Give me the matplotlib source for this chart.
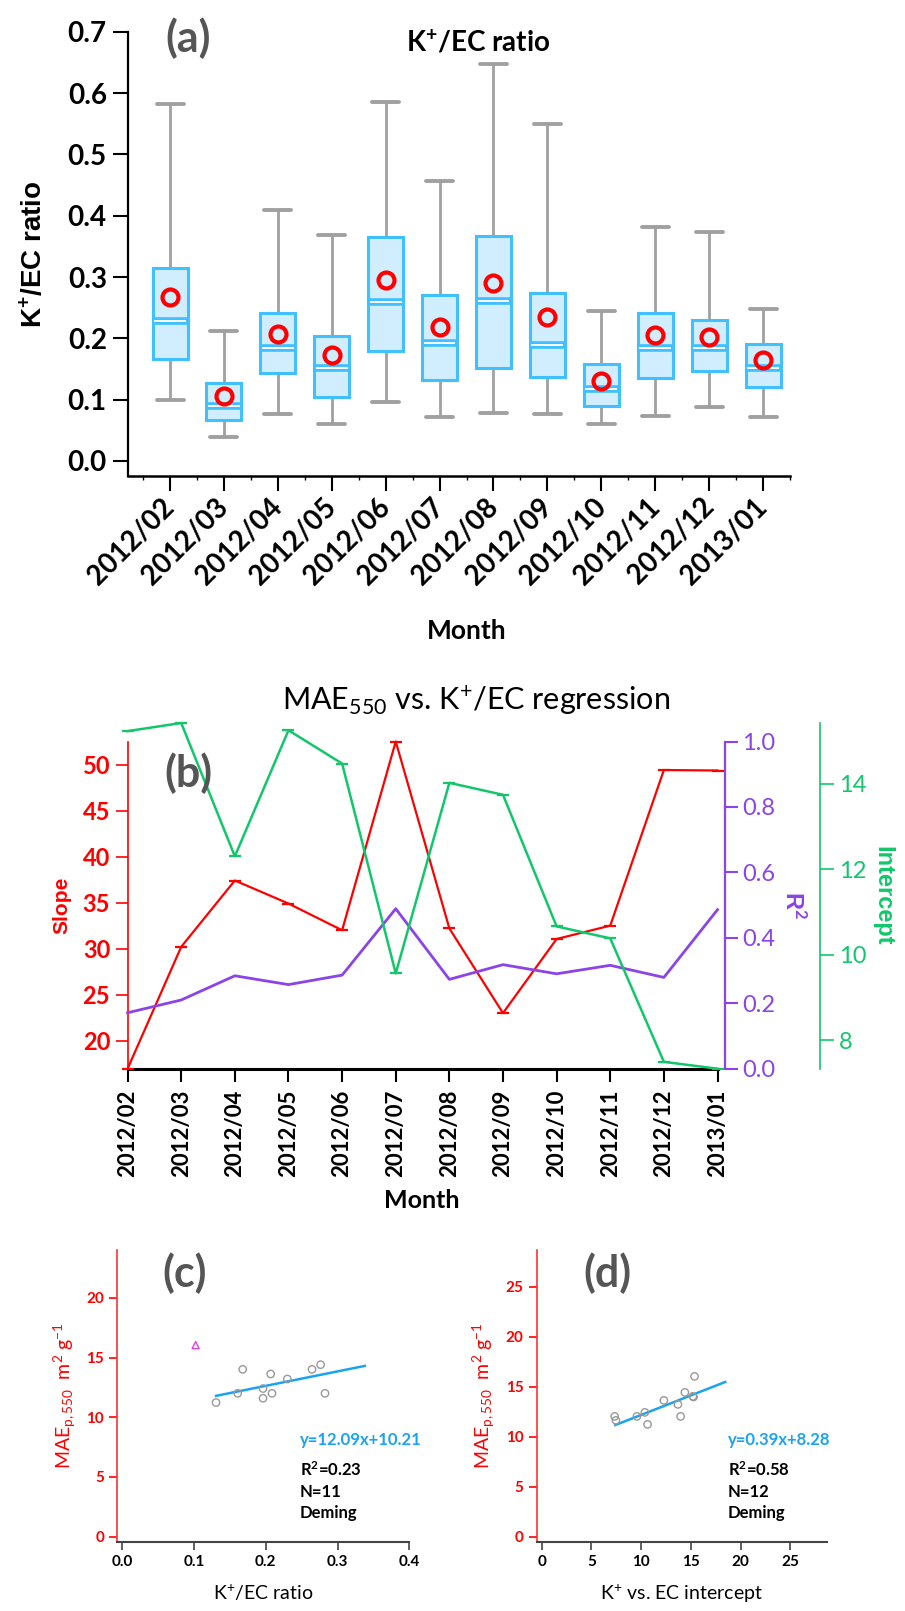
import numpy as np
import matplotlib
matplotlib.use("Agg")
import matplotlib.pyplot as plt

plt.rcParams['font.family'] = ['Lato', 'DejaVu Sans']
plt.rcParams['mathtext.fontset'] = 'custom'
plt.rcParams['mathtext.rm'] = 'Lato'
plt.rcParams['mathtext.bf'] = 'Lato:bold'
plt.rcParams['mathtext.it'] = 'Lato:italic'
ARIAL = ['Liberation Sans', 'DejaVu Sans']

months = ['2012/02', '2012/03', '2012/04', '2012/05', '2012/06', '2012/07',
          '2012/08', '2012/09', '2012/10', '2012/11', '2012/12', '2013/01']

# (a) K+/EC ratio box statistics per month
whis_lo = [0.100, 0.039, 0.077, 0.061, 0.096, 0.072, 0.079, 0.076, 0.061, 0.073, 0.088, 0.072]
q1 = [0.167, 0.067, 0.143, 0.105, 0.179, 0.132, 0.151, 0.137, 0.089, 0.136, 0.147, 0.121]
med = [0.228, 0.090, 0.185, 0.151, 0.259, 0.192, 0.261, 0.189, 0.118, 0.185, 0.184, 0.151]
q3 = [0.315, 0.127, 0.242, 0.204, 0.366, 0.270, 0.367, 0.274, 0.158, 0.241, 0.230, 0.190]
whis_hi = [0.582, 0.212, 0.410, 0.368, 0.585, 0.457, 0.648, 0.549, 0.244, 0.381, 0.373, 0.248]
mean_ratio = [0.268, 0.106, 0.207, 0.173, 0.295, 0.219, 0.290, 0.235, 0.131, 0.205, 0.202, 0.164]

# (b) monthly regression of MAE550 vs K+/EC
slope = [16.96, 30.2, 37.4, 34.9, 32.0, 52.5, 32.2, 23.0, 31.05, 32.5, 49.4, 49.35]
r2 = [0.171, 0.210, 0.284, 0.257, 0.286, 0.489, 0.273, 0.318, 0.290, 0.316, 0.279, 0.486]
intercept = [15.23, 15.42, 12.30, 15.25, 14.47, 9.56, 14.02, 13.74, 10.66, 10.38, 7.49, 7.33]

# (c) MAE vs K+/EC ratio
c_x = [0.1306, 0.1608, 0.1678, 0.1961, 0.1961, 0.2068, 0.2086, 0.230, 0.2644, 0.2764, 0.2825]
c_y = [11.23, 12.0, 14.01, 12.40, 11.59, 13.62, 12.0, 13.20, 14.01, 14.40, 12.0]
c_out_x = [0.1022]
c_out_y = [16.04]
c_slope, c_icpt = 12.09, 10.21
c_fit_x = [0.1306, 0.338]

# (d) MAE vs K+ vs EC intercept
d_x = [7.33, 7.46, 9.57, 10.37, 10.64, 12.28, 13.69, 13.96, 14.39, 15.19, 15.26, 15.36]
d_y = [12.03, 11.63, 12.03, 12.43, 11.23, 13.63, 13.23, 12.03, 14.43, 14.03, 13.97, 16.03]
d_slope, d_icpt = 0.39, 8.28
d_fit_x = [7.40, 18.44]

W, H = 905, 1611
fig = plt.figure(figsize=(W / 100, H / 100), dpi=100)


def px_axes(l, r, t, b):
    return fig.add_axes([l / W, 1 - b / H, (r - l) / W, (b - t) / H])


def ftext(x, y, s, **kw):
    return fig.text(x / W, 1 - y / H, s, **kw)


# ---------------- (a)
ax = px_axes(127.6, 790, 31.7, 476)
pos = np.arange(1, 13)
gray = '#A0A0A0'
box_edge = '#40C0FF'
box_face = '#D0EEFF'
bw = 0.65
ax.vlines(pos, whis_lo, q1, color=gray, lw=2, zorder=1)
ax.vlines(pos, q3, whis_hi, color=gray, lw=2, zorder=1)
ax.hlines(whis_lo, pos - 0.25, pos + 0.25, color=gray, lw=2.8, capstyle='round', zorder=1)
ax.hlines(whis_hi, pos - 0.25, pos + 0.25, color=gray, lw=2.8, capstyle='round', zorder=1)
ax.bar(pos, np.subtract(med, q1), bottom=q1, width=bw, facecolor=box_face,
       edgecolor=box_edge, lw=2.2, zorder=2)
ax.bar(pos, np.subtract(q3, med), bottom=med, width=bw, facecolor=box_face,
       edgecolor=box_edge, lw=2.2, zorder=2)
ax.hlines(med, pos - bw / 2, pos + bw / 2, color=box_edge, lw=5.5, zorder=3)
ax.hlines(med, pos - bw / 2 + 0.03, pos + bw / 2 - 0.03, color='white', lw=1.4, zorder=3)
ax.plot(pos, mean_ratio, 'o', mfc='none', mec='#FF0000', ms=11.5, mew=3, zorder=4)

ax.set_xlim(0.213, 12.5)
ax.set_ylim(-0.0245, 0.7)
ax.set_yticks(np.arange(0, 0.71, 0.1))
ax.set_yticklabels(['%.1f' % v for v in np.arange(0, 0.71, 0.1)], fontsize=20, fontweight='bold')
ax.set_xticks(pos)
ax.set_xticklabels(months, rotation=45, ha='right', va='center', rotation_mode='anchor',
                   fontsize=20, fontweight='bold')
ax.set_xticks(np.arange(0.5, 12.6, 1), minor=True)
ax.tick_params(axis='x', which='major', length=11, width=1.5, pad=8)
ax.tick_params(axis='x', which='minor', length=3, width=1)
ax.tick_params(axis='y', length=11, width=1.5, pad=4)
for s in ['top', 'right']:
    ax.spines[s].set_visible(False)
ax.spines['left'].set_linewidth(1.6)
ax.spines['bottom'].set_linewidth(1.8)
ax.set_ylabel(r'K$^{\mathbf{+}}$/EC ratio', fontsize=20, fontweight='bold', family=ARIAL, labelpad=14)
ftext(478, 43, r'K$^{\mathbf{+}}$/EC ratio', fontsize=20, fontweight='bold', ha='center', va='center')
ftext(188, 38, '(a)', fontsize=31, fontweight='bold', color='#555555', ha='center', va='center')
ftext(467, 631, 'Month', fontsize=19, fontweight='bold', ha='center', va='center')

# ---------------- (b)
red = '#FF0000'
purple = '#8A44E8'
green = '#12C76B'
x = np.arange(12)
axb = px_axes(127.6, 717.5, 741.5, 1068.7)
axb.plot(x, slope, color=red, lw=1.6, marker='_', ms=9, mew=1.6, clip_on=False, zorder=3)
axb.set_xlim(0, 11)
axb.set_ylim(16.96, 52.5)
axb.set_yticks(np.arange(20, 51, 5))
axb.set_xticks(x)
axb.set_xticklabels(months, rotation=90, fontsize=16, fontweight='bold')
axb.tick_params(axis='x', length=9, width=1.5, pad=6)
axb.tick_params(axis='y', colors=red, length=9, width=1.2, labelsize=17)
for lab in axb.get_yticklabels():
    lab.set_fontweight('bold')
axb.spines['top'].set_visible(False)
axb.spines['right'].set_visible(False)
axb.spines['left'].set_color(red)
axb.spines['left'].set_linewidth(1.2)
axb.spines['bottom'].set_linewidth(2.2)
axb.set_ylabel('Slope', color=red, fontsize=15, fontweight='bold', family=ARIAL, labelpad=8)
ftext(422, 1200, 'Month', fontsize=18, fontweight='bold', ha='center', va='center')

axr = axb.twinx()
axr.plot(x, r2, color=purple, lw=2, clip_on=False, zorder=2)
axr.set_ylim(0, 1.0)
axr.set_yticks(np.arange(0, 1.01, 0.2))
axr.set_yticklabels(['%.1f' % v for v in np.arange(0, 1.01, 0.2)])
axr.tick_params(axis='y', colors=purple, length=9, width=1.5, labelsize=17)
for lab in axr.get_yticklabels():
    lab.set_fontweight('bold')
for s in ['top', 'left', 'bottom']:
    axr.spines[s].set_visible(False)
axr.spines['right'].set_position(('outward', 5.4))
axr.spines['right'].set_color(purple)
axr.spines['right'].set_linewidth(1.6)
axr.set_ylabel(r'R$^{\mathbf{2}}$', color=purple, fontsize=17, fontweight='bold', family=ARIAL,
               rotation=270, labelpad=22)

axi = px_axes(127.6, 717.5, 723, 1068.7)
axi.patch.set_visible(False)
axi.plot(x, intercept, color=green, lw=1.8, marker='_', ms=9, mew=1.6, clip_on=False)
axi.set_xlim(0, 11)
axi.set_ylim(7.33, 15.42)
axi.yaxis.tick_right()
axi.yaxis.set_label_position('right')
axi.set_yticks(np.arange(8, 15, 2))
axi.set_xticks([])
axi.tick_params(axis='y', colors=green, length=10, width=1.2, labelsize=17)
for lab in axi.get_yticklabels():
    lab.set_fontweight('bold')
for s in ['top', 'left', 'bottom']:
    axi.spines[s].set_visible(False)
axi.spines['right'].set_position(('outward', 74))
axi.spines['right'].set_color(green)
axi.spines['right'].set_linewidth(1.2)
axi.set_ylabel('Intercept', color=green, fontsize=17, fontweight='bold', family=ARIAL,
               rotation=270, labelpad=20)

ftext(476, 700, r'MAE$_{550}$ vs. K$^{+}$/EC regression', fontsize=22, ha='center', va='center')
ftext(188, 773, '(b)', fontsize=31, fontweight='bold', color='#555555', ha='center', va='center')


# ---------------- (c) and (d)
def scatter_panel(axs, xs, ys, fx, k, b0, ylim, xlim, yt, xt, xfmt):
    axs.scatter(xs, ys, s=28, facecolors='none', edgecolors='#999999', linewidths=1, zorder=3)
    fx = np.array(fx)
    axs.plot(fx, k * fx + b0, color='#1AA3F0', lw=1.8, zorder=2)
    axs.set_xlim(*xlim)
    axs.set_ylim(*ylim)
    axs.set_yticks(yt)
    axs.set_xticks(xt)
    axs.set_xticklabels([xfmt % v for v in xt])
    axs.tick_params(axis='y', colors='#FF0000', length=6, width=1.2, labelsize=11)
    axs.tick_params(axis='x', colors='#444444', labelcolor='black', length=6, width=1.2, labelsize=11)
    for lab in axs.get_xticklabels() + axs.get_yticklabels():
        lab.set_fontweight('bold')
    axs.spines['top'].set_visible(False)
    axs.spines['right'].set_visible(False)
    axs.spines['left'].set_color('#FF3030')
    axs.spines['left'].set_linewidth(1.2)
    axs.spines['bottom'].set_color('#444444')
    axs.spines['bottom'].set_linewidth(1.5)
    axs.set_ylabel(r'MAE$_{\mathrm{p,550}}$  m$^{2}$ g$^{-1}$', color='#FF0000', fontsize=14, labelpad=6)


axc = px_axes(117.3, 409.3, 1250, 1541.7)
scatter_panel(axc, c_x, c_y, c_fit_x, c_slope, c_icpt, (-0.42, 24), (-0.007, 0.4),
              np.arange(0, 21, 5), np.arange(0, 0.41, 0.1), '%.1f')
axc.scatter(c_out_x, c_out_y, s=26, marker='^', facecolors='none', edgecolors='#E040E0', linewidths=1, zorder=3)
axc.set_xlabel(r'K$^{+}$/EC ratio', fontsize=14, labelpad=10)

axd = px_axes(536.7, 827.3, 1250, 1541.7)
scatter_panel(axd, d_x, d_y, d_fit_x, d_slope, d_icpt, (-0.5, 28.67), (-0.5, 28.7),
              np.arange(0, 26, 5), np.arange(0, 26, 5), '%d')
axd.set_xlabel(r'K$^{+}$ vs. EC intercept', fontsize=14, labelpad=10)

ftext(185, 1273, '(c)', fontsize=31, fontweight='bold', color='#555555', ha='center', va='center')
ftext(607, 1273, '(d)', fontsize=31, fontweight='bold', color='#555555', ha='center', va='center')

for lx, eq, rr, nn in [(300, 'y=12.09x+10.21', '0.23', '11'), (728, 'y=0.39x+8.28', '0.58', '12')]:
    ftext(lx, 1440, eq, fontsize=12, fontweight='bold', color='#1AA3F0', va='center')
    ftext(lx, 1470, r'R$^{\mathbf{2}}$=' + rr, fontsize=12, fontweight='bold', va='center')
    ftext(lx, 1492, 'N=' + nn, fontsize=12, fontweight='bold', va='center')
    ftext(lx, 1513, 'Deming', fontsize=12, fontweight='bold', va='center')

fig.savefig('out.png', dpi=100)
